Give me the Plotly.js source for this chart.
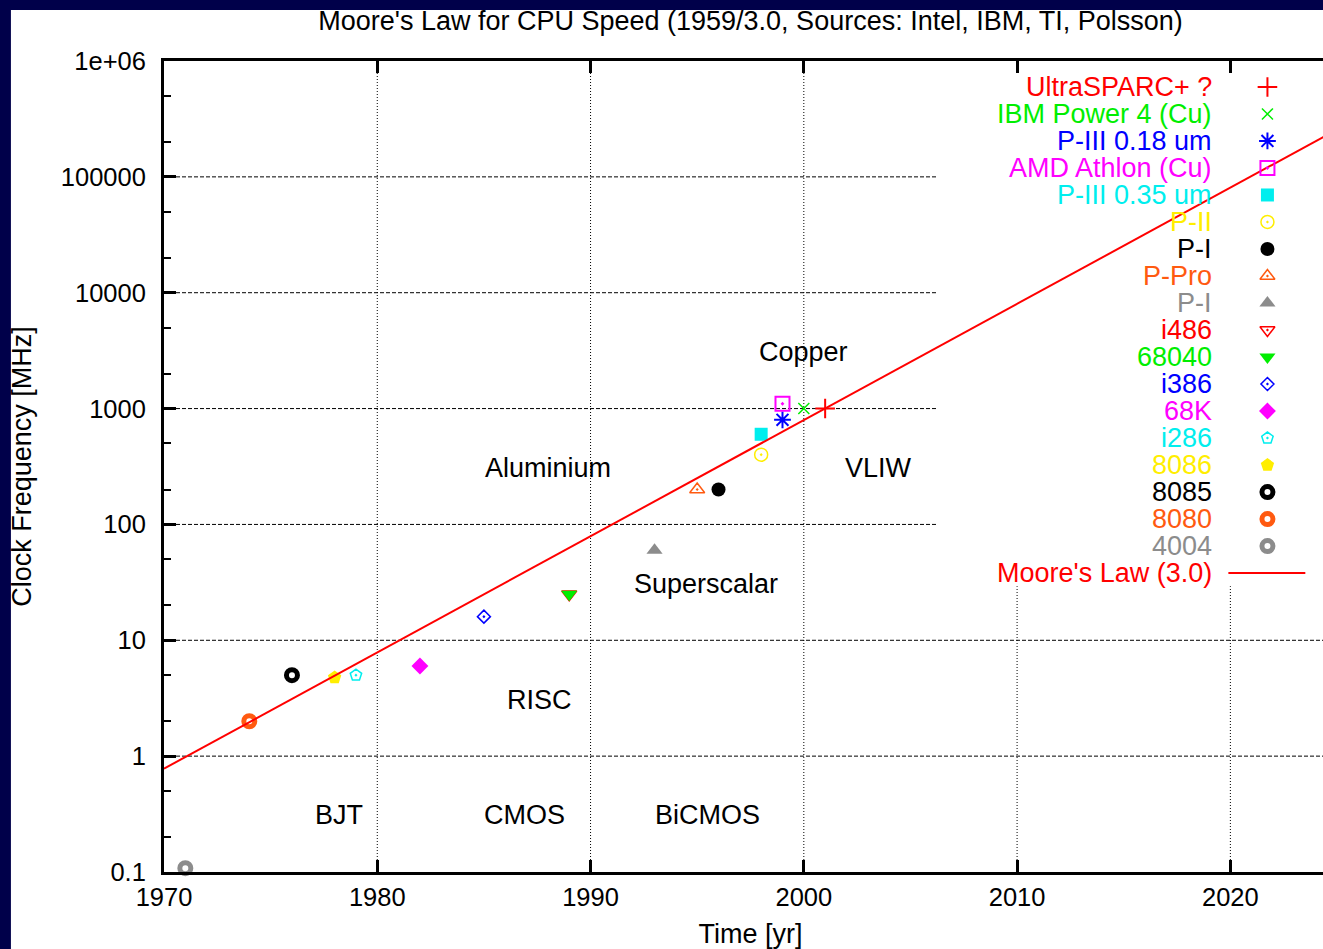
<!DOCTYPE html>
<html>
<head>
<meta charset="utf-8">
<script src="https://cdn.plot.ly/plotly-3.0.1.min.js"></script>
<style>
  html, body { margin: 0; padding: 0; width: 1323px; height: 949px; overflow: hidden; background: #00004a; }
  #chart { position: absolute; left: 0; top: 0; width: 1351px; height: 949px; }
</style>
</head>
<body>
<div id="chart"></div>
<script>
// ---------------- data ----------------
const cpuNames = ['UltraSPARC+ ?', 'IBM Power 4 (Cu)', 'P-III 0.18 um', 'AMD Athlon (Cu)', 'P-III 0.35 um',
                  'P-II', 'P-I', 'P-Pro', 'P-I', 'i486', '68040', 'i386', '68K', 'i286', '8086', '8085', '8080', '4004'];
const cpuYears = [2001, 2000, 1999, 1999, 1998, 1998, 1996, 1995, 1993, 1989, 1989, 1985, 1982, 1979, 1978, 1976, 1974, 1971];
const cpuMHz   = [1000, 1000, 800, 1100, 600, 400, 200, 200, 60, 25, 25, 16, 6, 5, 4.77, 5, 2, 0.108];

const mooreName  = "Moore's Law (3.0)";
const mooreYears = [1970, 2025];
const mooreMHz   = [0.78, 256000];

const regionLabels = ['Copper', 'Aluminium', 'VLIW', 'Superscalar', 'RISC', 'BJT', 'CMOS', 'BiCMOS'];
const regionYears  = [2000, 1988, 2003.5, 1995.4, 1987.6, 1978.2, 1986.9, 1995.5];
const regionMHz    = [3060, 305, 305, 30.5, 3.04, 0.31, 0.31, 0.31];

const yTickVals  = [0.1, 1, 10, 100, 1000, 10000, 100000, 1000000];
const yTickText  = ['0.1', '1', '10', '100', '1000', '10000', '100000', '1e+06'];
const xTickVals  = [1970, 1980, 1990, 2000, 2010, 2020];

// ---------------- styles ----------------
const palette = ['#ff0000', '#00ee00', '#0000ff', '#ff00ff', '#00eeee', '#ffee00', '#000000', '#ff5a10', '#8c8c8c'];
const symbols = ['cross-thin-open', 'x-thin-open', 'asterisk-open', 'square-open-dot', 'square',
                 'circle-open-dot', 'circle', 'triangle-up-open-dot', 'triangle-up', 'triangle-down-open-dot',
                 'triangle-down', 'diamond-open-dot', 'diamond', 'pentagon-open-dot', 'pentagon',
                 'circle-open', 'circle-open', 'circle-open'];
const symSize  = [14, 11, 14, 14, 13, 13, 14, 13, 14, 13, 14, 10, 13, 12, 14, 11, 11, 11];
const symWidth = [2, 1.5, 2, 2, 1, 1.5, 1, 1.5, 1, 1.5, 1, 1.5, 1, 1.5, 1, 5, 5, 5];
const FONT = '"Liberation Sans", Arial, Helvetica, sans-serif';
const FS = 27;      // texts
const FS_TICK = 25.5;
const NAVY = '#00004a';

// key geometry (paper coordinates of the plot area)
const keyTextX = 0.8955, keySymX = 0.9407, keyLineX0 = 0.9074, keyLineX1 = 0.973;
const keyTop = 0.968, keyStep = 0.0333;
// region blocked by the key for grid lines
const keyLeftYear = 2006.26, keyBottomMHz = 29.3;
const xMin = 1970, xMax = 2025, yMin = 0.1, yMax = 1e6;

const traces = [];
const annotations = [];
cpuNames.forEach((name, i) => {
  const col = palette[i % palette.length];
  const isOpen = symbols[i].indexOf('open') >= 0;
  const marker = {
    symbol: symbols[i], size: symSize[i], color: col,
    line: { color: col, width: isOpen ? symWidth[i] : 0 }
  };
  traces.push({
    type: 'scatter', mode: 'markers', name: name,
    x: [cpuYears[i]], y: [cpuMHz[i]],
    marker: marker, showlegend: false, hoverinfo: 'skip', cliponaxis: false
  });
  const ky = keyTop - keyStep * i;
  annotations.push({
    xref: 'paper', yref: 'paper', x: keyTextX, y: ky, xanchor: 'right', yanchor: 'middle',
    text: name, showarrow: false, font: { family: FONT, size: FS, color: col }
  });
  traces.push({
    type: 'scatter', mode: 'markers', xaxis: 'x2', yaxis: 'y2',
    x: [keySymX], y: [ky], marker: marker, showlegend: false, hoverinfo: 'skip'
  });
});

// Moore's law line (drawn last)
traces.push({
  type: 'scatter', mode: 'lines', name: mooreName,
  x: mooreYears, y: mooreMHz, line: { color: '#ff0000', width: 2 },
  showlegend: false, hoverinfo: 'skip'
});
const kyM = keyTop - keyStep * cpuNames.length;
annotations.push({
  xref: 'paper', yref: 'paper', x: keyTextX, y: kyM, xanchor: 'right', yanchor: 'middle',
  text: mooreName, showarrow: false, font: { family: FONT, size: FS, color: '#ff0000' }
});
traces.push({
  type: 'scatter', mode: 'lines', xaxis: 'x2', yaxis: 'y2',
  x: [keyLineX0, keyLineX1], y: [kyM, kyM], line: { color: '#ff0000', width: 2 },
  showlegend: false, hoverinfo: 'skip'
});

// region labels (annotation positions on a log axis are given in log10 units)
regionLabels.forEach((t, i) => {
  annotations.push({
    xref: 'x', yref: 'y', x: regionYears[i], y: Math.log10(regionMHz[i]),
    text: t, showarrow: false, xanchor: 'center', yanchor: 'middle',
    font: { family: FONT, size: FS, color: '#000000' }
  });
});

// grid lines (interrupted by the key box, as in the original)
const shapes = [];
yTickVals.forEach(v => {
  if (v <= yMin || v >= yMax) return;
  const xEnd = v < keyBottomMHz ? xMax : keyLeftYear;
  shapes.push({ type: 'line', xref: 'x', yref: 'y', x0: xMin, x1: xEnd, y0: v, y1: v, layer: 'below',
                line: { color: '#000000', width: 1, dash: '4px,2px' } });
});
xTickVals.forEach(v => {
  if (v <= xMin || v >= xMax) return;
  const yEnd = v < keyLeftYear ? yMax : keyBottomMHz;
  shapes.push({ type: 'line', xref: 'x', yref: 'y', x0: v, x1: v, y0: yMin, y1: yEnd, layer: 'below',
                line: { color: '#000000', width: 1, dash: '1px,2px' } });
});
// slide background strips (top and left), outside the white chart panel
shapes.push({ type: 'rect', xref: 'paper', yref: 'paper', x0: -0.2, x1: 1.2, y0: 1.0629, y1: 1.2,
              fillcolor: NAVY, line: { width: 0 }, layer: 'above' });
shapes.push({ type: 'rect', xref: 'paper', yref: 'paper', x0: -0.2, x1: -0.1305, y0: -0.2, y1: 1.2,
              fillcolor: NAVY, line: { width: 0 }, layer: 'above' });

// minor ticks at 2 and 5 per decade
const minorVals = [];
for (let e = -1; e < 6; e++) { minorVals.push(2 * Math.pow(10, e), 5 * Math.pow(10, e)); }

const layout = {
  width: 1351, height: 949,
  margin: { l: 164, r: 14, t: 61, b: 77 },
  paper_bgcolor: '#ffffff', plot_bgcolor: '#ffffff',
  font: { family: FONT, size: FS, color: '#000000' },
  showlegend: false,
  title: {
    text: "Moore's Law for CPU Speed (1959/3.0, Sources: Intel, IBM, TI, Polsson)",
    font: { family: FONT, size: FS, color: '#000000' },
    x: 0.5, xref: 'paper', y: 0.9779, yref: 'container', yanchor: 'middle'
  },
  xaxis: {
    type: 'linear', range: [xMin, xMax], tickvals: xTickVals, ticktext: xTickVals.map(String),
    showgrid: false, zeroline: false, showline: true, linecolor: '#000000', linewidth: 3,
    mirror: 'ticks', ticks: 'inside', ticklen: 12, tickwidth: 3, tickcolor: '#000000',
    tickfont: { family: FONT, size: FS_TICK, color: '#000000' },
    title: { text: 'Time [yr]', font: { family: FONT, size: FS, color: '#000000' }, standoff: 18 }
  },
  yaxis: {
    type: 'log', range: [Math.log10(yMin), Math.log10(yMax)], tickvals: yTickVals, ticktext: yTickText,
    showgrid: false, zeroline: false, showline: true, linecolor: '#000000', linewidth: 3,
    mirror: 'ticks', ticks: 'inside', ticklen: 12, tickwidth: 3, tickcolor: '#000000',
    ticklabelstandoff: 10,
    tickfont: { family: FONT, size: FS_TICK, color: '#000000' },
    minor: { tickvals: minorVals, ticks: 'inside', ticklen: 7, tickwidth: 2, tickcolor: '#000000', showgrid: false },
    title: { text: 'Clock Frequency [MHz]', font: { family: FONT, size: FS, color: '#000000' }, standoff: 22 }
  },
  xaxis2: { overlaying: 'x', range: [0, 1], visible: false, fixedrange: true },
  yaxis2: { overlaying: 'y', range: [0, 1], visible: false, fixedrange: true },
  annotations: annotations,
  shapes: shapes
};

Plotly.newPlot('chart', traces, layout, { staticPlot: true, displayModeBar: false });
</script>
</body>
</html>
